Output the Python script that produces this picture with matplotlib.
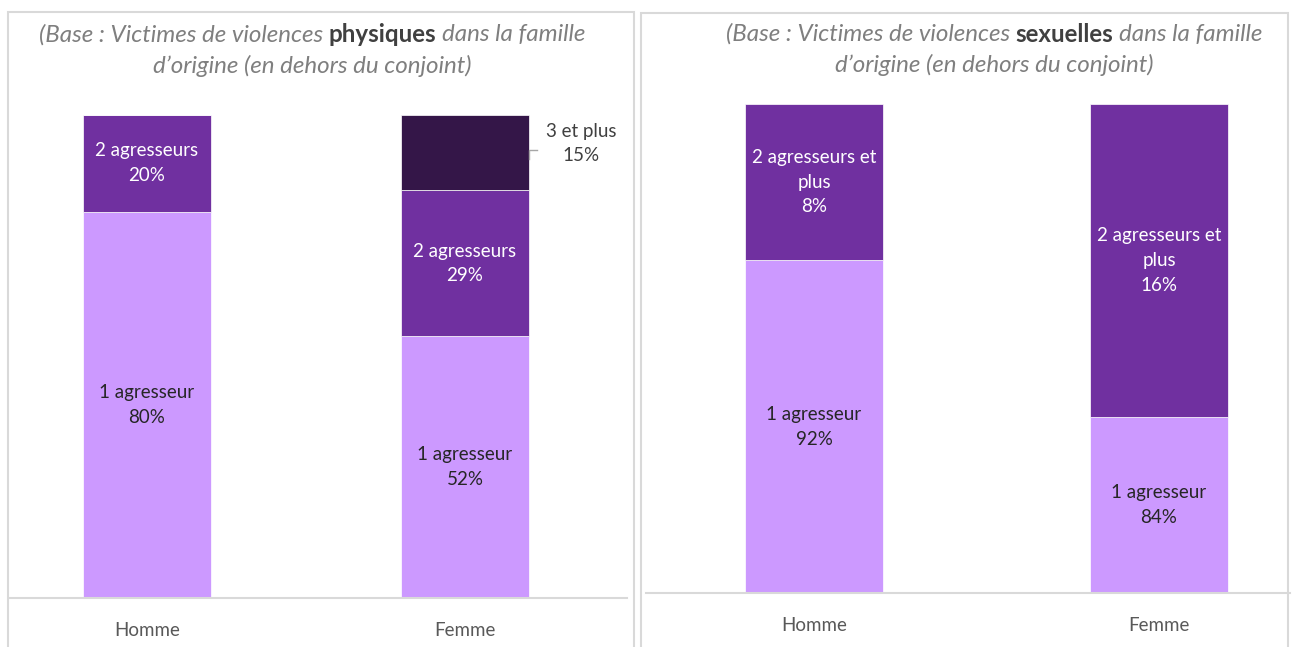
import matplotlib
matplotlib.use('Agg')
import matplotlib.pyplot as plt
from matplotlib.patches import Rectangle
from matplotlib.lines import Line2D

plt.rcParams['font.family'] = ['Lato', 'DejaVu Sans']

# Donnees
sexes = ['Homme', 'Femme']

# violences physiques (barres 100% empilees)
phys_1 = [80, 52]
phys_2 = [20, 29]
phys_3 = [0, 15]
phys_lab_1 = ['1 agresseur\n80%', '1 agresseur\n52%']
phys_lab_2 = ['2 agresseurs\n20%', '2 agresseurs\n29%']
phys_lab_3 = ['', '3 et plus\n15%']

# violences sexuelles : hauteurs telles que dessinees, etiquettes a part
sex_1 = [68, 36]
sex_2 = [32, 64]
sex_lab_1 = ['1 agresseur\n92%', '1 agresseur\n84%']
sex_lab_2 = ['2 agresseurs et\nplus\n8%', '2 agresseurs et\nplus\n16%']

titres = [('(Base : Victimes de violences', 'physiques', 'dans la famille'),
          ('(Base : Victimes de violences', 'sexuelles', 'dans la famille')]
titre_l2 = 'd\u2019origine (en dehors du conjoint)'

c_clair = '#CC99FF'
c_moyen = '#7030A0'
c_fonce = '#341648'
c_txt = '#262626'
c_gris = '#D9D9D9'
fs = 13.5
ls = 1.55

W, H = 1300, 647
fig = plt.figure(figsize=(13, 6.47), dpi=100)


def fx(px):
    return px / W


def fy(py):
    return 1 - py / H


# cadres des deux panneaux
for x0, x1, y0 in [(8, 634, 12), (641, 1288, 13)]:
    fig.patches.append(Rectangle((fx(x0), fy(H + 5)), fx(x1 - x0), fy(y0) - fy(H + 5),
                                 transform=fig.transFigure, fill=False,
                                 edgecolor=c_gris, linewidth=1.5))


def en_pct(*series):
    tot = [sum(v) for v in zip(*series)]
    return [[v / t * 100 for v, t in zip(s, tot)] for s in series]


def panneau(ax, series, labels, cols, txtcols):
    x = list(range(len(sexes)))
    bas = [0] * len(x)
    for s, lab, c, tc in zip(series, labels, cols, txtcols):
        ax.bar(x, s, width=0.4, bottom=bas, color=c, edgecolor='white', linewidth=0.5)
        if tc is not None:
            for i in x:
                ax.text(i, bas[i] + s[i] / 2, lab[i], ha='center', va='center',
                        color=tc, fontsize=fs, linespacing=ls)
        bas = [b + v for b, v in zip(bas, s)]
    ax.set_ylim(0, 100)
    ax.set_xticks(x)
    ax.set_xticklabels(sexes, fontsize=fs, color='#595959')
    ax.tick_params(axis='x', length=0, pad=17)
    ax.set_yticks([])
    for s in ['top', 'left', 'right']:
        ax.spines[s].set_visible(False)
    ax.spines['bottom'].set_color(c_gris)
    ax.spines['bottom'].set_linewidth(1.5)


# panneau gauche
ax1 = fig.add_axes([fx(10), fy(598), fx(617), fy(115) - fy(598)])
p1, p2, p3 = en_pct(phys_1, phys_2, phys_3)
panneau(ax1, [p1, p2, p3], [phys_lab_1, phys_lab_2, phys_lab_3],
        [c_clair, c_moyen, c_fonce], [c_txt, 'white', None])
ax1.set_xlim((10 - 147) / 318, (627 - 147) / 318)
# etiquette externe "3 et plus" avec son trait de rappel
y3 = 100 - p3[1] / 2
ax1.text(1.365, y3 + 1.9, phys_lab_3[1], ha='center', va='center',
         color='#404040', fontsize=fs, linespacing=ls)
ax1.add_line(Line2D([1.2, 1.2, 1.226], [y3 - 1.2, y3 + 0.6, y3 + 0.6],
                    color='#A6A6A6', linewidth=1))

# panneau droit
ax2 = fig.add_axes([fx(646), fy(593), fx(644), fy(104) - fy(593)])
panneau(ax2, [sex_1, sex_2], [sex_lab_1, sex_lab_2], [c_clair, c_moyen], [c_txt, 'white'])
ax2.set_xlim((646 - 814) / 345, (1290 - 814) / 345)

# titres (mot en gras au milieu de la premiere ligne)
fig.canvas.draw()
rend = fig.canvas.get_renderer()


def largeur(txt, **kw):
    t = fig.text(0, 0, txt, **kw)
    w = t.get_window_extent(rend).width
    t.remove()
    return w


kw_it = dict(style='italic', color='#7F7F7F')
kw_bd = dict(weight='bold', color='#404040')
taille = 15
ref = largeur('(Base : Victimes de violences physiques dans la famille', fontsize=taille, **kw_it)
taille = taille * 540 / ref
esp = largeur('a a', fontsize=taille, **kw_it) - largeur('aa', fontsize=taille, **kw_it)

for (m1, m2, m3), cx, y1, y2 in [(titres[0], 312, 35, 66), (titres[1], 994, 34, 65)]:
    morceaux = [(m1, kw_it), (m2, kw_bd), (m3, kw_it)]
    ws = [largeur(s, fontsize=taille, **k) for s, k in morceaux]
    x = cx - (sum(ws) + 2 * esp) / 2
    for (s, k), w in zip(morceaux, ws):
        fig.text(fx(x), fy(y1), s, ha='left', va='center', fontsize=taille, **k)
        x += w + esp
    fig.text(fx(cx), fy(y2), titre_l2, ha='center', va='center', fontsize=taille, **kw_it)

fig.savefig('out.png', dpi=100, facecolor='white')
